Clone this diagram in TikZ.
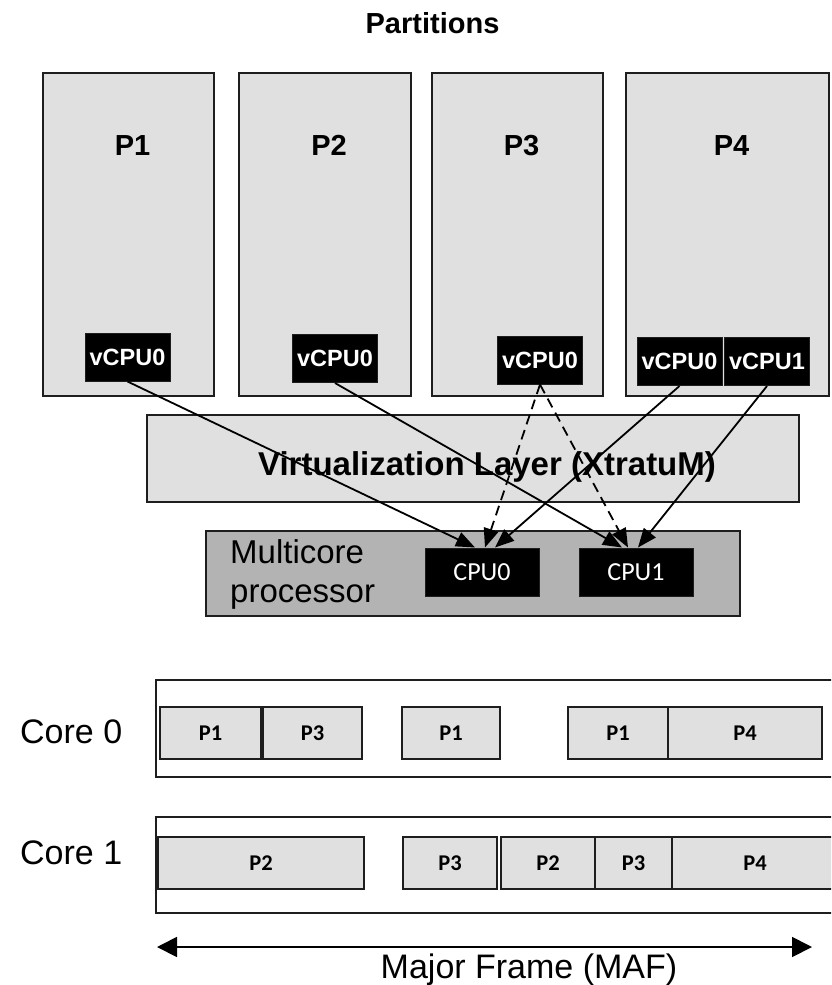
\documentclass[tikz,border=0pt]{standalone}
\usepackage{fontspec}
\setmainfont{Liberation Sans}
\newfontfamily\calibri{Carlito}
\usetikzlibrary{arrows.meta}
\definecolor{lightbox}{HTML}{E0E0E0}
\definecolor{chipgrey}{HTML}{B3B3B3}
\definecolor{edge}{HTML}{1E1E1E}
\newcommand\fs[1]{\fontsize{#1}{#1}\selectfont}
\tikzset{
  partbox/.style={draw=edge, line width=1.8pt, fill=lightbox, inner sep=0pt},
  vcpu/.style={draw=edge, line width=1pt, fill=black, text=white, inner sep=0pt,
    minimum width=85pt, minimum height=48pt, font=\fs{23.5}\bfseries},
  cpubox/.style={draw=edge, line width=1pt, fill=black, text=white, inner sep=0pt,
    minimum width=114pt, minimum height=48pt, font=\calibri\fs{26}},
  slot/.style={draw=edge, line width=1.8pt, fill=lightbox, inner sep=0pt,
    minimum height=52pt, font=\calibri\bfseries\fs{22.5}},
  corebox/.style={draw=edge, line width=1.8pt, fill=white, inner sep=0pt},
  map/.style={draw=black, line width=1.8pt, -{Triangle[length=19pt,width=15pt]}},
  mapdash/.style={map, dash pattern=on 10pt off 6pt},
  plabel/.style={anchor=base, font=\fs{29}\bfseries, inner sep=0pt},
  txt/.style={inner sep=0pt, font=\fs{34}}
}
\begin{document}
\begin{tikzpicture}[x=1pt,y=-1pt]
\useasboundingbox (0,0) rectangle (831,985);
\clip (0,0) rectangle (831,985);

% title
\node[plabel] (title) at (432.5,33) {Partitions};

% partition boxes
\node[partbox, minimum width=171pt, minimum height=323pt] (p1) at (128.5,234.5) {};
\node[partbox, minimum width=172pt, minimum height=323pt] (p2) at (325,234.5) {};
\node[partbox, minimum width=171pt, minimum height=323pt] (p3) at (517.5,234.5) {};
\node[partbox, minimum width=203pt, minimum height=323pt] (p4) at (727.5,234.5) {};
\node[plabel] (l1) at (132.5,155) {P1};
\node[plabel] (l2) at (329,155) {P2};
\node[plabel] (l3) at (521.5,155) {P3};
\node[plabel] (l4) at (731.5,155) {P4};

% virtual CPUs
\node[vcpu] (v1)  at (127.5,357) {vCPU0};
\node[vcpu] (v2)  at (335,358.5) {vCPU0};
\node[vcpu] (v3)  at (540,360) {vCPU0};
\node[vcpu] (v40) at (679.5,361.5) {vCPU0};
\node[vcpu] (v41) at (767,361.5) {vCPU1};

% hypervisor layer
\node[partbox, minimum width=652pt, minimum height=87pt] (xm) at (473,458.5) {};
\node[anchor=base, inner sep=0pt, font=\fs{33}\bfseries] (xmt) at (487,475) {Virtualization Layer (XtratuM)};

% hardware
\node[partbox, fill=chipgrey, minimum width=534pt, minimum height=85pt] (hw) at (473,573.5) {};
\node[anchor=base west, inner sep=0pt, font=\fs{33}] (hw1) at (230,563) {Multicore};
\node[anchor=base west, inner sep=0pt, font=\fs{33}] (hw2) at (230,602) {processor};
\node[cpubox] (c0) at (482,572) {CPU0};
\node[cpubox] (c1) at (636,572) {CPU1};

% vCPU to CPU mapping
\draw[map] (v1.south) -- ([xshift=-7pt]c0.north);
\draw[map] (v2.south) -- ([xshift=-14pt]c1.north);
\draw[mapdash] (v3.south) -- ([xshift=3pt]c0.north);
\draw[mapdash] (v3.south) -- ([xshift=-8pt]c1.north);
\draw[map] (v40.south) -- ([xshift=13pt]c0.north);
\draw[map] (v41.south) -- ([xshift=2pt]c1.north);

% core schedules
\node[corebox, anchor=north west, minimum width=700pt, minimum height=97pt] (core0) at (155,679) {};
\node[corebox, anchor=north west, minimum width=700pt, minimum height=96pt] (core1) at (155,816) {};
\node[txt, anchor=base west] (k0) at (20,743) {Core 0};
\node[txt, anchor=base west] (k1) at (20,864) {Core 1};

\node[slot, minimum width=101pt] (a1) at (210.5,733) {P1};
\node[slot, minimum width=99pt]  (a2) at (312.5,733) {P3};
\node[slot, minimum width=98pt]  (a3) at (451,733) {P1};
\node[slot, minimum width=100pt] (a4) at (618,733) {P1};
\node[slot, minimum width=154pt] (a5) at (745,733) {P4};

\node[slot, minimum width=206pt] (b1) at (261,863) {P2};
\node[slot, minimum width=94pt]  (b2) at (450,863) {P3};
\node[slot, minimum width=94pt]  (b3) at (548,863) {P2};
\node[slot, minimum width=77pt]  (b4) at (633.5,863) {P3};
\node[slot, minimum width=166pt] (b5) at (755,863) {P4};

% major frame span
\coordinate (mafL) at (157,947);
\coordinate (mafR) at (812,947);
\draw[line width=1.8pt, {Triangle[length=20pt,width=20pt]}-{Triangle[length=20pt,width=20pt]}] (mafL) -- (mafR);
\node[txt, anchor=base] (maf) at (529,978) {Major Frame (MAF)};
\end{tikzpicture}
\end{document}
